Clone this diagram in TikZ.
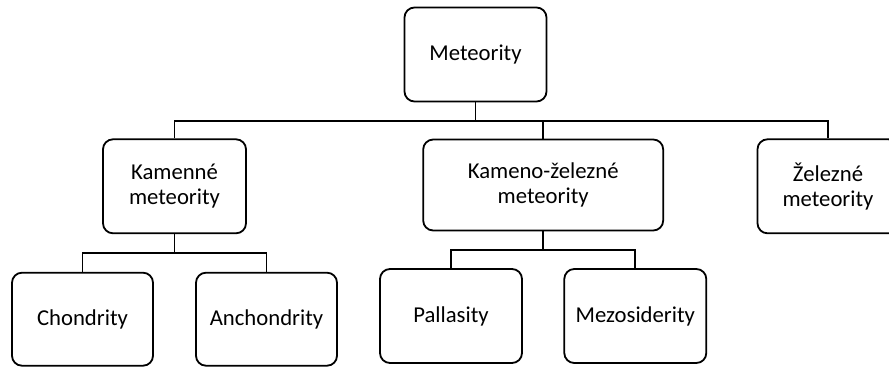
\documentclass[tikz,border=0pt]{standalone}
\usepackage{fontspec}
\setmainfont{Carlito}
\tikzset{box/.style={draw, rounded corners=10pt, line width=1.8pt, align=center,
  inner sep=0pt, font=\fontsize{22.7}{24.5}\selectfont}}

\begin{document}
\begin{tikzpicture}[x=1pt,y=-1pt,line width=1.8pt]
  \useasboundingbox (0,0) rectangle (889,367);
  % top level
  \node[box, minimum width=142pt, minimum height=94pt] (met) at (475.5,54.5) {Meteority};
  % second level
  \node[box, minimum width=143pt, minimum height=94pt] (kam) at (174.5,186.3) {Kamenné\\meteority};
  \node[box, minimum width=240pt, minimum height=91pt] (kz) at (543.2,185) {Kameno-železné\\meteority};
  \node[box, minimum width=141pt, minimum height=94pt] (zel) at (828,186.3) {Železné\\meteority};
  % third level
  \node[box, minimum width=141pt, minimum height=93pt] (cho) at (82.5,319.2) {Chondrity};
  \node[box, minimum width=141pt, minimum height=93pt] (ach) at (266.5,319.2) {Anchondrity};
  \node[box, minimum width=142pt, minimum height=94pt] (pal) at (451,316) {Pallasity};
  \node[box, minimum width=142pt, minimum height=94pt] (mez) at (635.3,316) {Mezosiderity};
  % connectors
  \coordinate (bus) at (475.5,120.7);
  \coordinate (kbus) at (174.5,253);
  \coordinate (zbus) at (543.2,250);
  \draw (met.south) -- (bus);
  \draw (kam.north) |- (zel.north |- bus) -- (zel.north);
  \draw (kz.north) -- (kz.north |- bus);
  \draw (kam.south) -- (kbus);
  \draw (cho.north) |- (ach.north |- kbus) -- (ach.north);
  \draw (kz.south) -- (zbus);
  \draw (pal.north) |- (mez.north |- zbus) -- (mez.north);
\end{tikzpicture}
\end{document}
